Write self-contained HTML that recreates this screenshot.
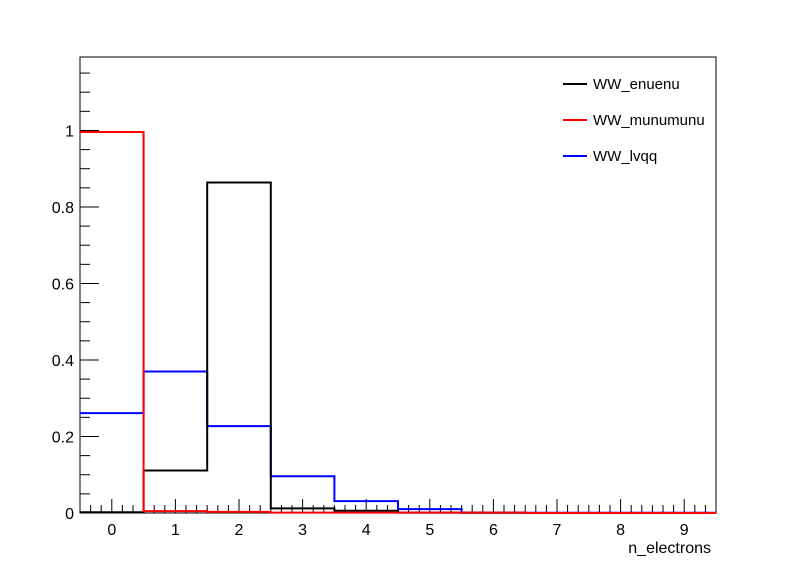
<!DOCTYPE html>
<html><head><meta charset="utf-8"><style>
body{margin:0;background:#fff;}
svg text{font-family:"Liberation Sans",Arial,sans-serif;}
</style></head><body>
<svg id="c" width="796" height="572" xmlns="http://www.w3.org/2000/svg">
<rect width="796" height="572" fill="#fff"/>
</svg>
<script>
const binCenters=[0,1,2,3,4,5,6,7,8,9];
const enuenu=[0.002,0.111,0.864,0.012,0.006,0.001,0.0005,0,0,0];
const munumunu=[0.996,0.005,0.003,0.001,0.001,0.001,0.001,0,0,0];
const lvqq=[0.261,0.370,0.227,0.096,0.031,0.010,0.001,0.0005,0.0005,0.0005];
const yTicks=[0,0.2,0.4,0.6,0.8,1];
const yTickLabels=["0","0.2","0.4","0.6","0.8","1"];
const xTickLabels=["0","1","2","3","4","5","6","7","8","9"];
const seriesNames=["WW_enuenu","WW_munumunu","WW_lvqq"];
const seriesColors=["#000","#f00","#00f"];

const L=80,R=716,T=57,B=513;
const xmin=-0.5,xmax=9.5,ymin=0,ymax=1.192;
const X=v=>L+(v-xmin)/(xmax-xmin)*(R-L);
const Y=v=>B-(v-ymin)/(ymax-ymin)*(B-T);
const svg=document.getElementById('c');
const NS="http://www.w3.org/2000/svg";
function mk(tag,attrs,parent){const e=document.createElementNS(NS,tag);for(const k in attrs)e.setAttribute(k,attrs[k]);(parent||svg).appendChild(e);return e;}

const fr=mk('rect',{x:L,y:T,width:R-L,height:B-T,fill:'none',stroke:'#000','stroke-width':1});



const ya=mk('g',{});


for(let v=0;v<=ymax+1e-9;v+=0.05){
  const major=Math.abs(v/0.2-Math.round(v/0.2))<1e-6;
  mk('line',{x1:L,x2:L+(major?19:10),y1:Y(v),y2:Y(v),stroke:'#000'},ya);
}
yTicks.forEach((v,i)=>{
  const t=mk('text',{x:L-6,y:Y(v)+6,'text-anchor':'end','font-size':16},ya);
  t.textContent=yTickLabels[i];
  
  
});
const xa=mk('g',{});


for(let v=-0.5;v<=9.5+1e-9;v+=1/6){
  const major=Math.abs(v-Math.round(v))<1e-6;
  mk('line',{x1:X(v),x2:X(v),y1:B,y2:B-(major?14:8),stroke:'#000'},xa);
}
binCenters.forEach((v,i)=>{
  const t=mk('text',{x:X(v),y:B+22,'text-anchor':'middle','font-size':16},xa);
  t.textContent=xTickLabels[i];
  
  
});
const xt=mk('text',{x:R-5,y:553,'text-anchor':'end','font-size':16});
xt.textContent='n_electrons';



// draw order: lvqq, enuenu, munumunu
[[lvqq,2],[enuenu,0],[munumunu,1]].forEach(([vals,s])=>{
  let d='';
  vals.forEach((v,i)=>{
    const x0=X(binCenters[i]-0.5),x1=X(binCenters[i]+0.5),y=Y(v);
    d+=(i===0?'M':'L')+x0+','+y+'L'+x1+','+y;
  });
  const p=mk('path',{d:d,fill:'none',stroke:seriesColors[s],'stroke-width':2});
  
  
});

const lg=mk('g',{});


seriesNames.forEach((n,i)=>{
  const y=84+i*36;
  const g=mk('g',{},lg);
  
  
  mk('line',{x1:563,x2:587,y1:y,y2:y,stroke:seriesColors[i],'stroke-width':2},g);
  const t=mk('text',{x:593,y:y+5,'font-size':15},g);
  t.textContent=n;
});
</script>
</body></html>
